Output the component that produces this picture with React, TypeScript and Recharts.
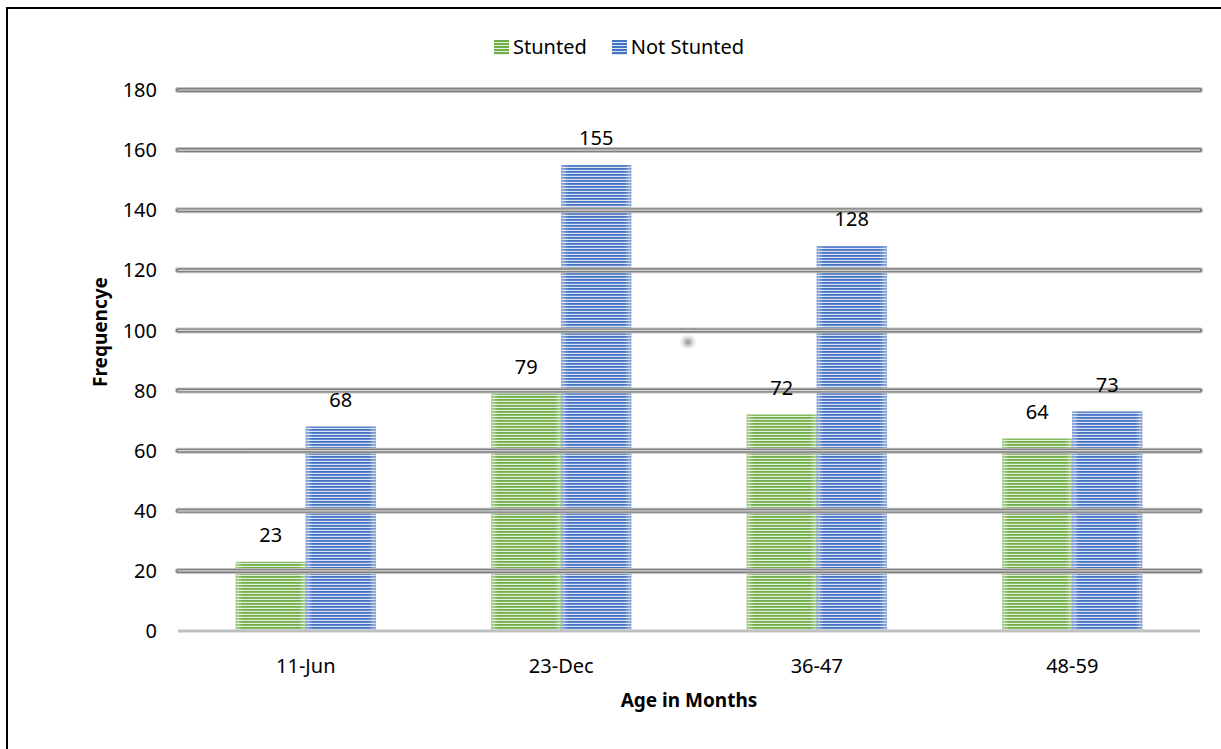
import React from 'react';
import { BarChart, Bar, XAxis, YAxis, Legend, ReferenceLine, LabelList } from 'recharts';

const categories = ['11-Jun', '23-Dec', '36-47', '48-59'];
const stunted = [23, 79, 72, 64];
const notStunted = [68, 155, 128, 73];
const yTicks = [0, 20, 40, 60, 80, 100, 120, 140, 160, 180];
const seriesNames = ['Stunted', 'Not Stunted'];
const seriesKeys = ['stunted', 'notStunted'];
const darkColors = ['#70ad47', '#4472c4'];
const lightColors = ['#e4efdc', '#dbe3f2'];

const data = categories.map((c, i) => ({ age: c, stunted: stunted[i], notStunted: notStunted[i] }));

const FONT = '"Noto Sans", "Open Sans", sans-serif';

const makeBar = (idx: number) => (props: any) => {
  const { x, y, width, height } = props;
  if (!height || height <= 0) return null;
  return (
    <g>
      <rect x={x} y={y} width={width} height={height} fill={`url(#stripe${idx})`} />
      <rect x={x} y={y} width={width} height={height} fill="url(#bevel)" />
      <rect x={x + 0.5} y={y + 0.5} width={width - 1} height={height - 1} fill="none" stroke={darkColors[idx]} strokeOpacity={0.35} strokeWidth={1} />
    </g>
  );
};

const GridTube = (props: any) => {
  const { x1, y1, x2, y2 } = props;
  return (
    <g>
      <line x1={x1} y1={y1} x2={x2} y2={y2} stroke="#c4c4c4" strokeWidth={6} strokeLinecap="round" />
      <line x1={x1} y1={y1} x2={x2} y2={y2} stroke="#7f7f7f" strokeWidth={4} strokeLinecap="round" />
      <line x1={x1} y1={y1} x2={x2} y2={y2} stroke="#d6d6d6" strokeWidth={1.2} />
    </g>
  );
};

const renderLegend = () => (
  <div style={{ display: 'flex', alignItems: 'center', height: 24, fontFamily: FONT, fontSize: 20, color: '#000' }}>
    {seriesNames.map((n, i) => (
      <div key={n} style={{ display: 'flex', alignItems: 'center', marginRight: i === 0 ? 25 : 0 }}>
        <svg width={15} height={15} style={{ display: 'block' }}>
          <defs>
            <pattern id={`lgStripe${i}`} patternUnits="userSpaceOnUse" width={4} height={3}>
              <rect x={0} y={0} width={4} height={3} fill={lightColors[i]} />
              <rect x={0} y={0} width={4} height={2} fill={darkColors[i]} />
            </pattern>
          </defs>
          <rect x={0} y={0} width={15} height={15} fill={`url(#lgStripe${i})`} />
        </svg>
        <span style={{ marginLeft: 4, lineHeight: '24px' }}>{n}</span>
      </div>
    ))}
  </div>
);

export default function App() {
  return (
    <div style={{ position: 'fixed', left: 0, top: 0, width: 1221, height: 749, overflow: 'hidden', background: '#fff' }}>
      <div style={{ position: 'absolute', left: 6, top: 7, width: 1300, height: 800, borderTop: '2px solid #000', borderLeft: '2px solid #000' }} />
      <div style={{ position: 'absolute', left: 0, top: 0 }}>
        <BarChart
          width={1221}
          height={749}
          data={data}
          margin={{ top: 66, right: 21, bottom: 0, left: 0 }}
          barCategoryGap="22.6%"
          barGap={0}
        >
          <defs>
            {darkColors.map((c, i) => (
              <pattern key={i} id={`stripe${i}`} patternUnits="userSpaceOnUse" width={4} height={3}>
                <rect x={0} y={0} width={4} height={3} fill={lightColors[i]} />
                <rect x={0} y={0} width={4} height={1.8} fill={c} />
              </pattern>
            ))}
            <linearGradient id="bevel" x1="0" y1="0" x2="1" y2="0">
              <stop offset="0" stopColor="#ffffff" stopOpacity={0.45} />
              <stop offset="0.1" stopColor="#ffffff" stopOpacity={0} />
              <stop offset="0.9" stopColor="#ffffff" stopOpacity={0} />
              <stop offset="1" stopColor="#ffffff" stopOpacity={0.45} />
            </linearGradient>
          </defs>
          <Legend
            verticalAlign="top"
            align="left"
            content={renderLegend}
            wrapperStyle={{ top: 35, left: 494, width: 300, height: 24 }}
          />
          <XAxis
            dataKey="age"
            height={118}
            tickSize={0}
            tickMargin={28}
            tickLine={false}
            axisLine={{ stroke: '#bfbfbf', strokeWidth: 3 }}
            tick={{ fill: '#000', fontSize: 20, fontFamily: FONT }}
            label={{
              content: () => (
                <text x={689} y={700} textAnchor="middle" dominantBaseline="central" fontFamily={FONT} fontSize={19} fontWeight="bold" fill="#000">
                  Age in Months
                </text>
              ),
            }}
          />
          <YAxis
            width={178}
            domain={[0, 180]}
            ticks={yTicks}
            interval={0}
            tickSize={0}
            tickMargin={21}
            tickLine={false}
            axisLine={false}
            tick={{ fill: '#000', fontSize: 20, fontFamily: FONT }}
            label={{
              content: () => (
                <text x={100} y={332} transform="rotate(-90 100 332)" textAnchor="middle" dominantBaseline="central" fontFamily={FONT} fontSize={19} fontWeight="bold" fill="#000">
                  Frequencye
                </text>
              ),
            }}
          />
          {yTicks.filter((v) => v > 0).map((v) => (
            <ReferenceLine key={v} y={v} shape={GridTube} ifOverflow="visible" />
          ))}
          {seriesKeys.map((k, i) => (
            <Bar key={k} dataKey={k} name={seriesNames[i]} fill={darkColors[i]} shape={makeBar(i)} isAnimationActive={false}>
              <LabelList dataKey={k} position="top" offset={20} fill="#000" fontSize={20} fontFamily={FONT} />
            </Bar>
          ))}
        </BarChart>
      </div>
      <div style={{ position: 'absolute', left: 679, top: 334, width: 18, height: 16, borderRadius: '50%', background: 'radial-gradient(closest-side, rgba(110,110,110,0.75), rgba(160,160,160,0.3) 60%, rgba(255,255,255,0))' }} />
    </div>
  );
}
